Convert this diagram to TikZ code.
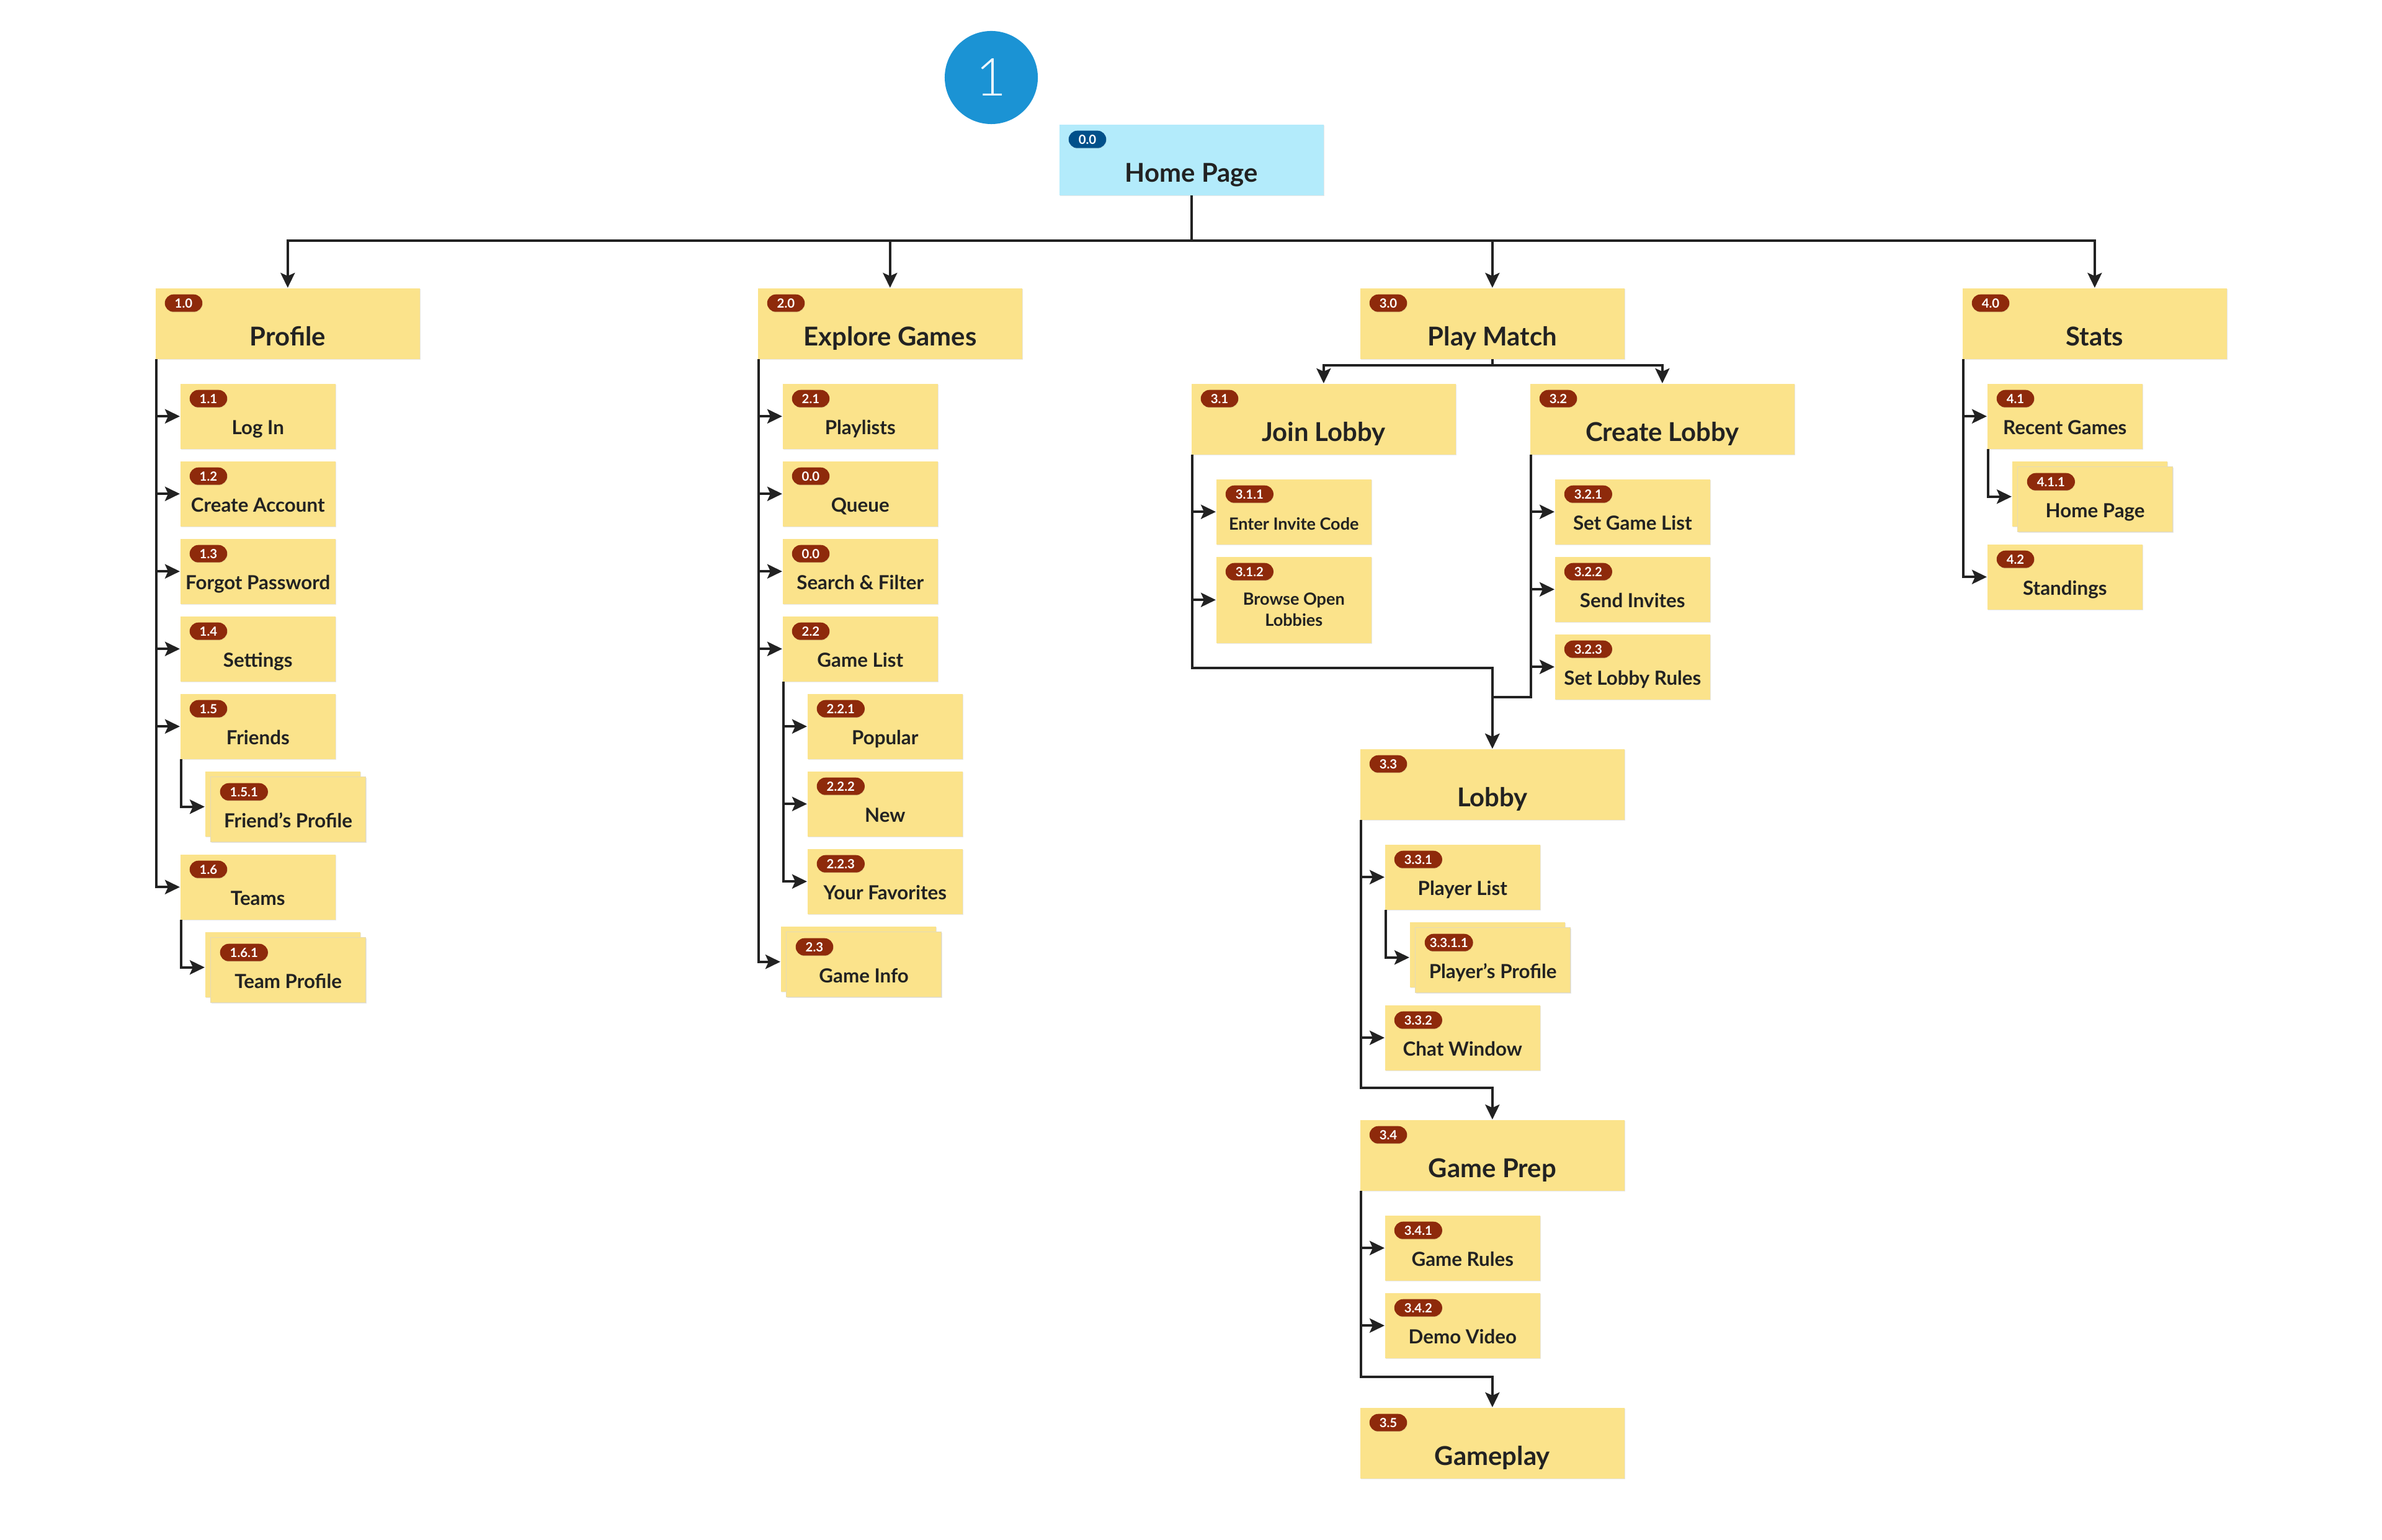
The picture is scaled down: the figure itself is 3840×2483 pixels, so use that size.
\documentclass[tikz,border=0pt]{standalone}
\usepackage{fontspec}
\setmainfont{Lato}
\newfontfamily\lightfont{Lato Light}
\usepackage{tikz}
\usetikzlibrary{arrows.meta,positioning,calc,shadows}

\definecolor{cardyellow}{HTML}{FBE38B}
\definecolor{tagred}{HTML}{8E2A0B}
\definecolor{homeblue}{HTML}{B3EBFB}
\definecolor{tagblue}{HTML}{01508A}
\definecolor{bubble}{HTML}{1B93D4}
\definecolor{ink}{HTML}{222222}

\tikzstyle{line} = [draw=ink, line width=0.04cm]
\tikzset{>={Stealth[length=0.24cm,width=0.23cm,inset=0.05cm]}}
\tikzset{
  card/.style={anchor=north west, fill=cardyellow, text=ink, inner sep=0pt,
    minimum width=2.5cm, text height=0.82cm, text depth=0.23cm,
    font=\fontsize{8.9}{10.7}\selectfont\bfseries,
    drop shadow={shadow xshift=0.01cm, shadow yshift=-0.015cm, opacity=0.2}},
  bigcard/.style={card, minimum width=4.26cm, text height=0.93cm, text depth=0.21cm,
    font=\fontsize{11.9}{14}\selectfont\bfseries},
  backcard/.style={card, text height=1.05cm, text depth=0cm},
  frontcard/.style={card, draw=cardyellow!80!black!50, line width=0.3pt},
  smalltext/.style={font=\fontsize{7.7}{9.8}\selectfont\bfseries},
  num/.style={anchor=north west, xshift=0.15cm, yshift=-0.1cm, fill=tagred, text=white,
    rounded corners=0.14cm, inner xsep=0.16cm, inner ysep=0pt, minimum width=0.6cm,
    minimum height=0.28cm, text height=4.2pt, text depth=0pt,
    font=\fontsize{5.8}{6}\selectfont\bfseries,
    drop shadow={shadow xshift=0.005cm, shadow yshift=-0.01cm, opacity=0.2}},
  tag/.style={label={[num]north west:#1}},
}

\begin{document}
\begin{tikzpicture}[x=0.01cm, y=-0.01cm]
  \useasboundingbox (0,0) rectangle (3840,2483);

  \node[circle, fill=bubble, minimum size=1.5cm, inner sep=0pt, text=white!92!bubble,
    font=\fontsize{24}{24}\selectfont\lightfont] (stepone) at (1598,125) {1};
  \node[bigcard, fill=homeblue, label={[num, fill=tagblue]north west:0.0}] (home) at (1707,200) {Home Page};

  \node[bigcard, tag=1.0] (profile) at (250,464) {Profile};
  \node[bigcard, tag=2.0] (explore) at (1221,464) {Explore Games};
  \node[bigcard, tag=3.0] (play) at (2192,464) {Play Match};
  \node[bigcard, tag=4.0] (stats) at (3163,464) {Stats};

  % profile
  \node[card, tag=1.1] (login) at (290,618) {Log In};
  \node[card, tag=1.2] (account) at (290,743) {Create Account};
  \node[card, tag=1.3] (password) at (290,868) {Forgot Password};
  \node[card, tag=1.4] (settings) at (290,993) {Settings};
  \node[card, tag=1.5] (friends) at (290,1118) {Friends};
  \node[backcard] (friendback) at (330,1243) {};
  \node[frontcard, tag=1.5.1] (friend) at (339,1252) {Friend’s Profile};
  \node[card, tag=1.6] (teams) at (290,1377) {Teams};
  \node[backcard] (teamback) at (330,1502) {};
  \node[frontcard, tag=1.6.1] (team) at (339,1511) {Team Profile};

  % explore games
  \node[card, tag=2.1] (playlists) at (1261,618) {Playlists};
  \node[card, tag=0.0] (queue) at (1261,743) {Queue};
  \node[card, tag=0.0] (search) at (1261,868) {Search \& Filter};
  \node[card, tag=2.2] (gamelist) at (1261,993) {Game List};
  \node[card, tag=2.2.1] (popular) at (1301,1118) {Popular};
  \node[card, tag=2.2.2] (new) at (1301,1243) {New};
  \node[card, tag=2.2.3] (favorites) at (1301,1368) {Your Favorites};
  \node[backcard] (infoback) at (1258,1493) {};
  \node[frontcard, tag=2.3] (info) at (1267,1502) {Game Info};

  % play match
  \node[bigcard, tag=3.1] (join) at (1920,618) {Join Lobby};
  \node[bigcard, tag=3.2] (create) at (2466,618) {Create Lobby};
  \node[card, smalltext, tag=3.1.1] (invite) at (1960,772) {Enter Invite Code};
  \node[card, smalltext, tag=3.1.2, text height=0.775cm, text depth=0.615cm] (browse) at (1960,897)
    {\begin{tabular}[t]{@{}c@{}}Browse Open\\Lobbies\end{tabular}};
  \node[card, tag=3.2.1] (gameset) at (2506,772) {Set Game List};
  \node[card, tag=3.2.2] (invites) at (2506,897) {Send Invites};
  \node[card, tag=3.2.3] (rules) at (2506,1022) {Set Lobby Rules};

  \node[bigcard, tag=3.3] (lobby) at (2192,1207) {Lobby};
  \node[card, tag=3.3.1] (players) at (2232,1361) {Player List};
  \node[backcard] (playerback) at (2272,1486) {};
  \node[frontcard, label={[num, inner xsep=0.08cm]north west:3.3.1.1}] (player) at (2281,1495) {Player’s Profile};
  \node[card, tag=3.3.2] (chat) at (2232,1620) {Chat Window};

  \node[bigcard, tag=3.4] (prep) at (2192,1805) {Game Prep};
  \node[card, tag=3.4.1] (gamerules) at (2232,1959) {Game Rules};
  \node[card, tag=3.4.2] (demo) at (2232,2084) {Demo Video};
  \node[bigcard, tag=3.5] (gameplay) at (2192,2269) {Gameplay};

  % stats
  \node[card, tag=4.1] (recent) at (3203,618) {Recent Games};
  \node[backcard] (homeback) at (3243,743) {};
  \node[frontcard, tag=4.1.1] (homeagain) at (3252,752) {Home Page};
  \node[card, tag=4.2] (standings) at (3203,877) {Standings};

  % connectors
  \draw[line] (home.south) -- ++(0,73) coordinate (bus);
  \draw[line,->] (bus) -| (profile.north);
  \draw[line,->] (bus) -| (explore.north);
  \draw[line,->] (bus) -| (play.north);
  \draw[line,->] (bus) -| (stats.north);

  \draw[line,->] ([xshift=0.02cm]profile.south west) |- (login.west);
  \draw[line,->] ([xshift=0.02cm]profile.south west) |- (account.west);
  \draw[line,->] ([xshift=0.02cm]profile.south west) |- (password.west);
  \draw[line,->] ([xshift=0.02cm]profile.south west) |- (settings.west);
  \draw[line,->] ([xshift=0.02cm]profile.south west) |- (friends.west);
  \draw[line,->] ([xshift=0.02cm]profile.south west) |- (teams.west);
  \draw[line,->] ([xshift=0.02cm]friends.south west) |- ([yshift=-0.045cm]friendback.west);
  \draw[line,->] ([xshift=0.02cm]teams.south west) |- ([yshift=-0.045cm]teamback.west);

  \draw[line,->] ([xshift=0.02cm]explore.south west) |- (playlists.west);
  \draw[line,->] ([xshift=0.02cm]explore.south west) |- (queue.west);
  \draw[line,->] ([xshift=0.02cm]explore.south west) |- (search.west);
  \draw[line,->] ([xshift=0.02cm]explore.south west) |- (gamelist.west);
  \draw[line,->] ([xshift=0.02cm]explore.south west) |- ([yshift=-0.045cm]infoback.west);
  \draw[line,->] ([xshift=0.02cm]gamelist.south west) |- (popular.west);
  \draw[line,->] ([xshift=0.02cm]gamelist.south west) |- (new.west);
  \draw[line,->] ([xshift=0.02cm]gamelist.south west) |- (favorites.west);

  \draw[line,->] (play.south) -- ++(0,10) -| (join.north);
  \draw[line,->] (play.south) -- ++(0,10) -| (create.north);
  \draw[line,->] ([xshift=0.02cm]join.south west) |- (invite.west);
  \draw[line,->] ([xshift=0.02cm]join.south west) |- (browse.west);
  \draw[line,->] ([xshift=0.02cm]join.south west) -- ++(0,344) -| (lobby.north);
  \draw[line,->] ([xshift=0.02cm]create.south west) |- (gameset.west);
  \draw[line,->] ([xshift=0.02cm]create.south west) |- (invites.west);
  \draw[line,->] ([xshift=0.02cm]create.south west) |- (rules.west);
  \draw[line,->] ([xshift=0.02cm]create.south west) -- ++(0,391) -| (lobby.north);

  \draw[line,->] ([xshift=0.02cm]lobby.south west) |- (players.west);
  \draw[line,->] ([xshift=0.02cm]lobby.south west) |- (chat.west);
  \draw[line,->] ([xshift=0.02cm]players.south west) |- ([yshift=-0.045cm]playerback.west);
  \draw[line,->] ([xshift=0.02cm]lobby.south west) -- ++(0,432) -| (prep.north);

  \draw[line,->] ([xshift=0.02cm]prep.south west) |- (gamerules.west);
  \draw[line,->] ([xshift=0.02cm]prep.south west) |- (demo.west);
  \draw[line,->] ([xshift=0.02cm]prep.south west) -- ++(0,300) -| (gameplay.north);

  \draw[line,->] ([xshift=0.02cm]stats.south west) |- (recent.west);
  \draw[line,->] ([xshift=0.02cm]stats.south west) |- (standings.west);
  \draw[line,->] ([xshift=0.02cm]recent.south west) |- ([yshift=-0.045cm]homeback.west);
\end{tikzpicture}
\end{document}
